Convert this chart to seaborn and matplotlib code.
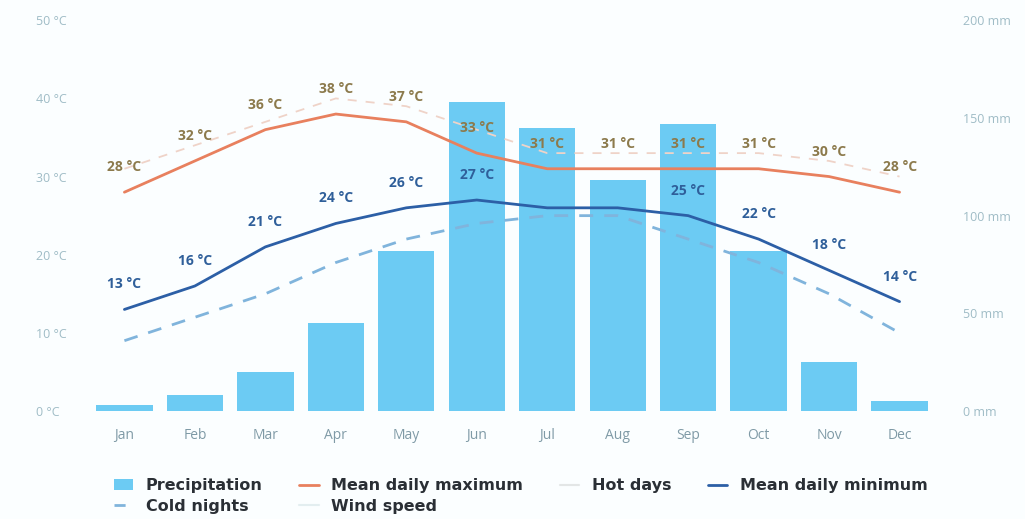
import numpy as np
import pandas as pd
import matplotlib
matplotlib.use("Agg")
import matplotlib.pyplot as plt
import seaborn as sns
from matplotlib.patches import Patch
from matplotlib.lines import Line2D

months = ["Jan", "Feb", "Mar", "Apr", "May", "Jun", "Jul", "Aug", "Sep", "Oct", "Nov", "Dec"]
precip_mm = [3, 8, 20, 45, 82, 158, 145, 118, 147, 82, 25, 5]
mean_max = [28, 32, 36, 38, 37, 33, 31, 31, 31, 31, 30, 28]
hot_days = [31, 34, 37, 40, 39, 36, 33, 33, 33, 33, 32, 30]
mean_min = [13, 16, 21, 24, 26, 27, 26, 26, 25, 22, 18, 14]
cold_nights = [9, 12, 15, 19, 22, 24, 25, 25, 22, 19, 15, 10]
min_label_shown = [True, True, True, True, True, True, False, False, True, True, True, True]
temp_ticks = [0, 10, 20, 30, 40, 50]
precip_ticks = [0, 50, 100, 150, 200]

sns.set_theme(style="white")
plt.rcParams['font.family'] = ['Open Sans', 'DejaVu Sans']

fig = plt.figure(figsize=(10.25, 5.19), dpi=100)
fig.patch.set_facecolor("#fbfeff")
ax = fig.add_axes([0.087, 0.208, 0.825, 0.753])
ax2 = ax.twinx()

df = pd.DataFrame({"month": months, "precip": precip_mm, "x": np.arange(len(months)),
                   "tmax": mean_max, "hot": hot_days, "tmin": mean_min, "cold": cold_nights})

bar_color = "#6ccbf3"
sns.barplot(data=df, x="month", y="precip", color=bar_color, width=0.8, ax=ax2,
            saturation=1, edgecolor="none")
ax2.set_ylim(0, 200)
ax2.set_yticks(precip_ticks)
ax2.set_yticklabels([f"{v} mm" for v in precip_ticks])

max_color = "#e8805e"
min_color = "#2c5fa6"
hot_color = "#efd3c8"
cold_color = "#80b4dc"

sns.lineplot(data=df, x="x", y="hot", ax=ax, color=hot_color, lw=1.3, linestyle=(0, (5, 5)))
sns.lineplot(data=df, x="x", y="tmax", ax=ax, color=max_color, lw=2)
sns.lineplot(data=df, x="x", y="cold", ax=ax, color=cold_color, lw=2, linestyle=(0, (5, 4)))
sns.lineplot(data=df, x="x", y="tmin", ax=ax, color=min_color, lw=2)

for i, v in enumerate(mean_max):
    ax.annotate(f"{v} °C", (i, v), xytext=(0, 13), textcoords="offset points",
                ha="center", va="bottom", fontsize=10, fontweight="bold", color="#8c7a4c")
for i, v in enumerate(mean_min):
    if min_label_shown[i]:
        ax.annotate(f"{v} °C", (i, v), xytext=(0, 13), textcoords="offset points",
                    ha="center", va="bottom", fontsize=10, fontweight="bold", color="#2f5f9a")

ax.set_xlim(-0.5, len(months) - 0.5)
ax.set_ylim(0, 50)
ax.set_yticks(temp_ticks)
ax.set_yticklabels([f"{v} °C" for v in temp_ticks])
ax.set_xticks(np.arange(len(months)))
ax.set_xticklabels(months)
ax.set_xlabel("")
ax.set_ylabel("")
ax2.set_ylabel("")
ax2.set_xlabel("")

ax.set_zorder(ax2.get_zorder() + 1)
ax.patch.set_visible(False)
ax2.patch.set_visible(False)

tick_color = "#9fbcc6"
ax.tick_params(axis="y", length=0, pad=38, labelsize=9, labelcolor=tick_color)
ax.tick_params(axis="x", length=0, pad=12, labelsize=10, labelcolor="#7f9aa6")
ax2.tick_params(axis="y", length=0, pad=20, labelsize=9, labelcolor=tick_color)
for a in (ax, ax2):
    for s in a.spines.values():
        s.set_visible(False)
    a.grid(False)
for lbl in ax.get_yticklabels():
    lbl.set_horizontalalignment("left")

handles = [
    Patch(facecolor=bar_color, edgecolor="none"),
    Line2D([], [], color=cold_color, lw=2, linestyle=(0, (4, 3))),
    Line2D([], [], color=max_color, lw=2),
    Line2D([], [], color="#e3eef0", lw=1.5),
    Line2D([], [], color="#e3e6e6", lw=1.5),
    Line2D([], [], color=min_color, lw=2),
]
labels = ["Precipitation", "Cold nights", "Mean daily maximum", "Wind speed", "Hot days", "Mean daily minimum"]
fig.legend(handles, labels, ncol=4, loc="lower left", bbox_to_anchor=(0.097, -0.018),
           frameon=False, handlelength=1.2, columnspacing=2.3,
           handletextpad=0.8, labelspacing=0.35,
           prop={"family": ["DejaVu Sans"], "weight": "bold", "size": 11.5})
for t in fig.legends[0].get_texts():
    t.set_color("#2a2f35")

fig.savefig("out.png", dpi=100, facecolor=fig.get_facecolor())
